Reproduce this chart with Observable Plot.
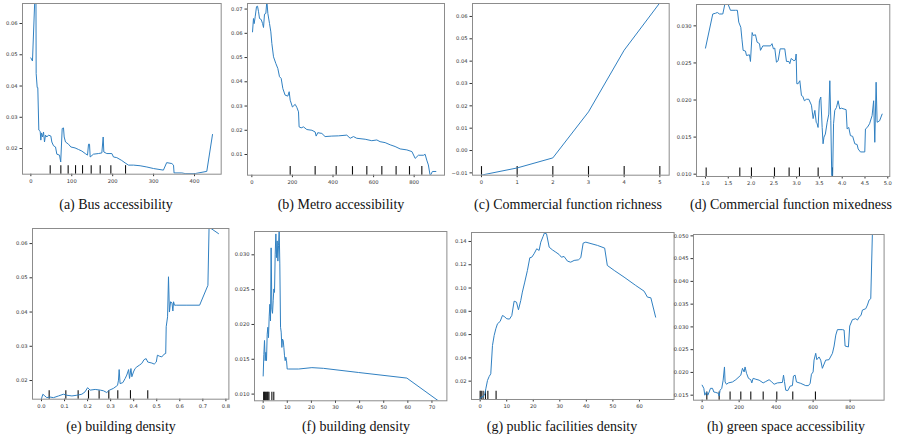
<!DOCTYPE html>
<html><head><meta charset="utf-8">
<script src="https://cdn.jsdelivr.net/npm/d3@7"></script>
<script src="https://cdn.jsdelivr.net/npm/@observablehq/plot@0.6"></script>
<style>
body{margin:0;background:#fff;}
#fig{position:relative;width:902px;height:442px;overflow:hidden;background:#fff;}
.panel{position:absolute;}
.cap{position:absolute;font-family:"Liberation Serif","Times New Roman",serif;font-size:14px;color:#111;white-space:nowrap;transform:translate(-50%,-50%);}
</style></head><body><div id="fig"></div>
<script>
// ---------- DATA (partial dependence curves) ----------
const busPDP = [[0,0.049],[4,0.048],[10,0.069],[12.5,0.069],[13,0.044],[15.5,0.0395],[17,0.0395],[19.5,0.0259],[22.8,0.0255],[24.4,0.0227],[26,0.025],[28.5,0.0237],[31,0.0253],[33.4,0.0221],[35.8,0.0243],[39.1,0.0237],[43.2,0.0243],[48.9,0.024],[51.3,0.0221],[55.4,0.0209],[60.3,0.0205],[63.5,0.0182],[70,0.0179],[73,0.0157],[76.6,0.0264],[79.8,0.0266],[81.5,0.0237],[84.7,0.0221],[92,0.0214],[97.8,0.0205],[108,0.0202],[116.5,0.0197],[124.6,0.0192],[133,0.0184],[138.5,0.0179],[141,0.0214],[143.4,0.0214],[145,0.0173],[153,0.0182],[165,0.0184],[173.5,0.0186],[176.8,0.0237],[178.4,0.0189],[185.7,0.0184],[198,0.0184],[202,0.0173],[210,0.0171],[222,0.0162],[230.5,0.0154],[238.7,0.0147],[251,0.0147],[267,0.0145],[283.5,0.0141],[300,0.0136],[324,0.0131],[332,0.0155],[344.6,0.0152],[348.7,0.0147],[350,0.0122],[369,0.0122],[377,0.012],[401.6,0.012],[430,0.0127],[444,0.0245]];
const busDeciles = [47.3,73.3,91.2,109.2,126.3,147.5,169.5,195.5,231.4];

const metroPDP = [[3.3,0.0606],[8,0.0661],[11.5,0.064],[16.4,0.0668],[23,0.071],[28,0.0712],[33,0.0689],[37.8,0.0661],[46,0.0657],[52.6,0.0641],[57.5,0.0624],[62.4,0.0679],[69,0.0682],[74,0.0735],[78.9,0.0682],[87,0.0641],[93.6,0.0606],[98.6,0.0558],[106.8,0.0503],[118,0.0476],[128,0.0455],[136.3,0.0421],[144.6,0.0414],[152.8,0.0372],[164,0.0345],[177.4,0.0341],[184,0.0359],[189,0.0324],[200,0.0296],[213.5,0.0307],[222,0.0294],[230,0.0276],[233,0.0214],[243,0.021],[254.6,0.0214],[271,0.0203],[296,0.02],[312,0.0193],[317,0.0176],[325,0.019],[345,0.0187],[361,0.0174],[394,0.0176],[427,0.0177],[468,0.018],[484.6,0.0167],[501,0.0174],[517,0.0167],[558.5,0.0163],[591,0.0157],[616,0.016],[632,0.0153],[657,0.0149],[682,0.014],[706,0.0133],[731,0.0123],[764,0.0119],[789,0.0112],[805,0.0084],[821,0.0097],[846,0.0097],[854,0.0101],[862,0.0077],[870,0.0057],[879,0.0012],[890,0.003],[907,0.003]];
const metroDeciles = [189,312,415.6,496,566.7,640.7,711,777,837.8];

const richnessPDP = [[0,-0.011],[1,-0.0078],[2,-0.0033],[3,0.0173],[4,0.0449],[5,0.0661]];
const richnessDeciles = [0,1,2,3,4,5];

const mixednessPDP = [[1.0,0.027],[1.16,0.0316],[1.22,0.0317],[1.26,0.0318],[1.307,0.0316],[1.38,0.0316],[1.424,0.0329],[1.497,0.0329],[1.548,0.0321],[1.658,0.0321],[1.70,0.0321],[1.73,0.0305],[1.775,0.0298],[1.80,0.0282],[1.826,0.0267],[1.877,0.0266],[1.9,0.026],[1.965,0.0261],[1.987,0.0252],[2.024,0.0291],[2.046,0.0287],[2.097,0.0288],[2.133,0.0278],[2.185,0.0276],[2.207,0.0267],[2.258,0.0273],[2.426,0.0273],[2.46,0.0276],[2.49,0.0269],[2.52,0.027],[2.557,0.0251],[2.594,0.0253],[2.638,0.0269],[2.74,0.0269],[2.777,0.0252],[2.83,0.0252],[2.85,0.0249],[2.88,0.0256],[2.94,0.0253],[2.974,0.0254],[2.989,0.0262],[3.004,0.0222],[3.033,0.0222],[3.07,0.0226],[3.106,0.0206],[3.135,0.0205],[3.17,0.0199],[3.216,0.0201],[3.267,0.0201],[3.325,0.0193],[3.362,0.0175],[3.4,0.0186],[3.43,0.017],[3.45,0.0168],[3.47,0.0163],[3.5,0.0199],[3.53,0.0204],[3.56,0.0163],[3.58,0.0141],[3.6,0.015],[3.63,0.0154],[3.67,0.017],[3.706,0.0181],[3.728,0.0226],[3.75,0.0172],[3.77,0.0098],[3.79,0.0098],[3.81,0.0168],[3.837,0.0186],[3.874,0.019],[3.91,0.0199],[3.947,0.0188],[3.98,0.0189],[4.086,0.0187],[4.108,0.0161],[4.144,0.0163],[4.18,0.0152],[4.23,0.0151],[4.276,0.0141],[4.327,0.014],[4.35,0.0134],[4.4,0.013],[4.495,0.013],[4.51,0.0161],[4.55,0.0163],[4.6,0.0168],[4.656,0.0179],[4.69,0.0199],[4.715,0.0143],[4.744,0.0224],[4.766,0.017],[4.82,0.0172],[4.876,0.0181]];
const mixednessDeciles = [1.015,1.753,2.009,2.514,2.835,3.062,3.472,3.786];

const buildingPDP = [[0,0.0147],[0.006,0.016],[0.0145,0.0155],[0.023,0.015],[0.035,0.0152],[0.052,0.015],[0.074,0.0155],[0.095,0.016],[0.11,0.0157],[0.132,0.0155],[0.153,0.0157],[0.175,0.016],[0.189,0.0167],[0.2,0.0179],[0.211,0.0172],[0.233,0.0174],[0.255,0.0172],[0.269,0.017],[0.283,0.0165],[0.295,0.0172],[0.312,0.0177],[0.324,0.0183],[0.33,0.0186],[0.334,0.0201],[0.337,0.0232],[0.341,0.0191],[0.353,0.0194],[0.363,0.0206],[0.37,0.0216],[0.378,0.0232],[0.382,0.0206],[0.388,0.0235],[0.392,0.0211],[0.399,0.0225],[0.406,0.0235],[0.414,0.024],[0.425,0.0245],[0.435,0.025],[0.445,0.0261],[0.454,0.0264],[0.461,0.0254],[0.479,0.0251],[0.489,0.0248],[0.498,0.0254],[0.503,0.0274],[0.512,0.0271],[0.522,0.0269],[0.532,0.0277],[0.539,0.0279],[0.541,0.0357],[0.547,0.0386],[0.551,0.0503],[0.555,0.04],[0.56,0.043],[0.566,0.0427],[0.57,0.0403],[0.573,0.043],[0.577,0.042],[0.587,0.042],[0.631,0.042],[0.686,0.042],[0.722,0.0478],[0.727,0.0648],[0.768,0.0629]];
const buildingDeciles = [0.0333,0.1056,0.159,0.204,0.25,0.292,0.331,0.386,0.461];

const building2PDP = [[0,0.0126],[0.28,0.0157],[0.55,0.0177],[0.83,0.0148],[1.1,0.016],[1.38,0.0148],[1.66,0.0186],[1.94,0.0196],[2.2,0.0181],[2.5,0.0212],[2.77,0.0229],[3.04,0.0205],[3.3,0.031],[3.6,0.0222],[3.87,0.0216],[4.15,0.0234],[4.43,0.0251],[4.7,0.0246],[4.98,0.0301],[5.26,0.033],[5.53,0.0296],[5.8,0.032],[6.09,0.0291],[6.36,0.0313],[6.64,0.0336],[6.9,0.0287],[7.2,0.0196],[7.47,0.0189],[7.75,0.0167],[8.0,0.0179],[8.3,0.0177],[8.58,0.0167],[8.85,0.0155],[9.13,0.0148],[9.4,0.0153],[9.68,0.0148],[9.96,0.0136],[10.5,0.0136],[14.7,0.0136],[20.2,0.0138],[25,0.0137],[39.6,0.0131],[59.6,0.0123],[72.8,0.009]];
const building2Deciles = [0.2,0.5,0.9,1.3,1.7,2.0,2.4,3.6,4.4];

const facilitiesPDP = [[0,0.005],[0.5,0.0066],[1.13,0.0066],[1.76,0.0091],[2.13,0.0134],[2.76,0.0206],[3.39,0.024],[4.0,0.0263],[4.64,0.0506],[5.27,0.0592],[5.9,0.065],[6.53,0.0693],[7.53,0.0713],[8.4,0.0764],[9.04,0.0756],[10.04,0.0736],[11.05,0.0733],[11.92,0.0764],[12.8,0.0887],[13.68,0.0879],[14.43,0.0813],[15.3,0.0893],[15.9,0.0965],[16.8,0.1051],[17.8,0.1151],[18.7,0.126],[19.45,0.1265],[20.3,0.1294],[21.3,0.1337],[22.2,0.1323],[22.84,0.1394],[23.7,0.1443],[24.2,0.1472],[25,0.1466],[26,0.1351],[27.2,0.1328],[28.5,0.1308],[29.75,0.1288],[30.6,0.1265],[31.6,0.1271],[32.9,0.1231],[34.1,0.1222],[35.4,0.1237],[37,0.1242],[37.9,0.126],[38.8,0.1386],[39.8,0.1394],[44.2,0.1366],[46.9,0.1343],[47.9,0.1194],[50.5,0.1151],[54.2,0.1094],[58.6,0.1022],[61.75,0.0973],[63,0.0922],[64.3,0.0916],[66.1,0.075]];
const facilitiesDeciles = [0,0.4,1.1,2.0,2.9,6.0];

const greenPDP = [[0,0.0172],[9,0.0165],[14.4,0.015],[23.4,0.0157],[30.6,0.015],[37.8,0.0157],[45,0.0165],[56,0.0165],[63,0.0157],[74,0.0156],[88,0.0154],[92,0.0148],[97,0.0161],[106,0.0165],[113.5,0.0183],[120.7,0.0212],[124,0.0179],[131.5,0.0174],[142,0.0177],[164,0.0179],[182,0.0184],[209,0.0194],[218,0.0209],[227,0.0201],[232,0.0212],[240,0.0198],[250.5,0.0187],[263,0.0184],[268.5,0.0177],[275.7,0.0187],[290,0.0185],[308,0.0183],[330,0.0177],[344,0.018],[362,0.0184],[376.6,0.0179],[389,0.0174],[407,0.0177],[434,0.0178],[440,0.0194],[445,0.018],[452,0.0161],[463,0.016],[475.7,0.017],[488,0.0171],[493.7,0.0192],[502.7,0.0194],[510,0.0179],[533,0.0176],[560,0.0171],[575,0.0171],[584,0.0176],[591,0.0196],[600,0.0201],[605,0.0227],[614,0.0242],[620,0.0228],[632,0.0234],[641,0.0227],[650,0.0209],[668,0.0227],[686,0.0228],[704.5,0.0242],[713.5,0.0258],[722.5,0.0282],[731.5,0.0294],[758.6,0.0294],[767.6,0.0293],[773,0.0258],[791,0.0256],[798,0.0302],[812.6,0.0316],[830.6,0.0318],[839.6,0.0315],[848.6,0.0321],[859.5,0.0326],[866.7,0.0337],[884.7,0.034],[893.7,0.0348],[902.7,0.0359],[911.7,0.0362],[920.7,0.0508]];
const greenDeciles = [25.2,91.9,151,209,263,330,403.6,490,612.6];

// ---------- tick values ----------
const busXTicks = [0,100,200,300,400], busYTicks = [0.02,0.03,0.04,0.05,0.06];
const metroXTicks = [0,200,400,600,800], metroYTicks = [0.01,0.02,0.03,0.04,0.05,0.06,0.07];
const richXTicks = [0,1,2,3,4,5], richYTicks = [-0.01,0,0.01,0.02,0.03,0.04,0.05,0.06];
const mixXTicks = [1,1.5,2,2.5,3,3.5,4,4.5,5], mixYTicks = [0.010,0.015,0.020,0.025,0.030];
const bdXTicks = [0,0.1,0.2,0.3,0.4,0.5,0.6,0.7,0.8], bdYTicks = [0.02,0.03,0.04,0.05,0.06];
const bd2XTicks = [0,10,20,30,40,50,60,70], bd2YTicks = [0.010,0.015,0.020,0.025,0.030];
const facXTicks = [0,10,20,30,40,50,60], facYTicks = [0.02,0.04,0.06,0.08,0.10,0.12,0.14];
const greenXTicks = [0,200,400,600,800], greenYTicks = [0.015,0.020,0.025,0.030,0.035,0.040,0.045,0.050];

const captions = ["(a) Bus accessibility","(b) Metro accessibility","(c) Commercial function richness","(d) Commercial function mixedness","(e) building density","(f) building density","(g) public facilities density","(h) green space accessibility"];

// ---------- layout ----------
const panels = [
  {data: busPDP, dec: busDeciles, xd: [-20.4,465.2], yd: [0.0118,0.0664], xt: busXTicks, yt: busYTicks, xf: "d", yf: ".2f", frame: [22.3,221,3.3,174], cap: [116,205]},
  {data: metroPDP, dec: metroDeciles, xd: [-21.4,949.5], yd: [0.00147,0.0723], xt: metroXTicks, yt: metroYTicks, xf: "d", yf: ".2f", frame: [247.3,444.3,3.3,175], cap: [341,205]},
  {data: richnessPDP, dec: richnessDeciles, xd: [-0.252,5.262], yd: [-0.01104,0.0658], xt: richXTicks, yt: richYTicks, xf: "d", yf: ".2f", frame: [472.3,669,3.3,175], cap: [568,205]},
  {data: mixednessPDP, dec: mixednessDeciles, xd: [0.803,5.044], yd: [0.00969,0.03288], xt: mixXTicks, yt: mixYTicks, xf: ".1f", yf: ".3f", frame: [696,889.3,4,176], cap: [791,205]},
  {data: buildingPDP, dec: buildingDeciles, xd: [-0.039,0.813], yd: [0.01455,0.0644], xt: bdXTicks, yt: bdYTicks, xf: ".1f", yf: ".2f", frame: [32.3,228.7,228.3,399], cap: [121,427]},
  {data: building2PDP, dec: building2Deciles, xd: [-3.6,76.2], yd: [0.00904,0.03335], xt: bd2XTicks, yt: bd2YTicks, xf: "d", yf: ".3f", frame: [254.3,446.7,230.7,400], cap: [356,427]},
  {data: facilitiesPDP, dec: facilitiesDeciles, xd: [-3.26,73.05], yd: [0.00425,0.1477], xt: facXTicks, yt: facYTicks, xf: "d", yf: ".2f", frame: [470.7,673.3,232,399], cap: [562,427]},
  {data: greenPDP, dec: greenDeciles, xd: [-46.8,983.8], yd: [0.0139,0.0503], xt: greenXTicks, yt: greenYTicks, xf: "d", yf: ".3f", frame: [692.7,883.3,234.3,400], cap: [786,427]}
];

const fig = document.getElementById("fig");
const mL = 26, mR = 8, mT = 4, mB = 14;
panels.forEach((p, i) => {
  const [l, r, t, b] = p.frame;
  const [y0, y1] = p.yd;
  const chart = Plot.plot({
    width: (r - l) + mL + mR,
    height: (b - t) + mT + mB,
    marginLeft: mL, marginRight: mR, marginTop: mT, marginBottom: mB,
    style: {fontFamily: "DejaVu Sans", fontSize: "5.2px", color: "#333", background: "transparent", overflow: "visible"},
    x: {domain: p.xd, ticks: p.xt, tickFormat: p.xf, tickSize: 2.5, tickPadding: 2.5, label: null},
    y: {domain: p.yd, ticks: p.yt, tickFormat: p.yf, tickSize: 2.5, tickPadding: 2.5, label: null},
    marks: [
      Plot.ruleX(p.dec, {x: d => d, y1: y0, y2: y0 + 0.05 * (y1 - y0), stroke: "#111", strokeWidth: 1.1}),
      Plot.line(p.data, {x: d => d[0], y: d => d[1], stroke: "#2f7fc1", strokeWidth: 1, clip: true}),
      Plot.frame({stroke: "#8c8c8c", strokeWidth: 1})
    ]
  });
  chart.classList.add("panel");
  chart.style.left = (l - mL) + "px";
  chart.style.top = (t - mT) + "px";
  fig.appendChild(chart);
  const c = document.createElement("div");
  c.className = "cap";
  c.textContent = captions[i];
  c.style.left = p.cap[0] + "px";
  c.style.top = p.cap[1] + "px";
  fig.appendChild(c);
});
</script></body></html>
